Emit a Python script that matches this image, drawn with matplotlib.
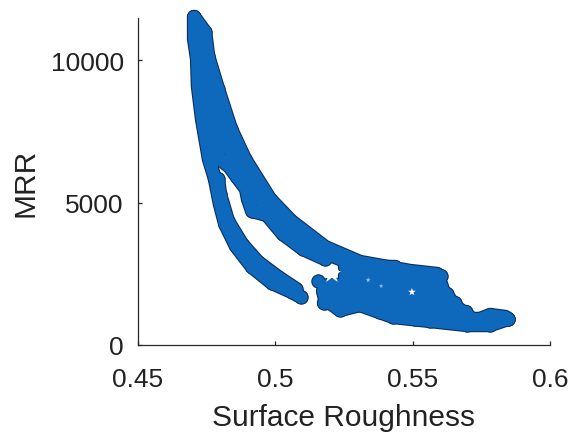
import matplotlib
matplotlib.use("Agg")
import matplotlib.pyplot as plt

plt.rcParams["font.family"] = ["Liberation Sans", "DejaVu Sans"]

# traces (surface roughness, MRR)
left_x = [0.4705, 0.4705, 0.4716, 0.4719, 0.4734, 0.4759, 0.4781]
left_y = [11510, 10738, 10036, 9088, 7930, 6527, 5825]
inner_a_x = [0.4781, 0.4799, 0.4818, 0.4857, 0.4916, 0.4988, 0.5061, 0.5094]
inner_a_y = [5825, 4948, 4246, 3474, 2737, 2176, 1860, 1684]
inner_b_x = [0.4792, 0.4799, 0.4828, 0.4879, 0.4937, 0.5010, 0.5076]
inner_b_y = [5825, 5299, 4351, 3544, 2913, 2386, 1965]
right_x = [0.4705, 0.4745, 0.4756, 0.4792, 0.4839, 0.4890, 0.4981, 0.5058, 0.5181,
           0.5308, 0.5490, 0.5588, 0.5607, 0.5654, 0.5727, 0.5781, 0.5836, 0.5847]
right_y = [11510, 10983, 10141, 8983, 7580, 6527, 5123, 4351, 3439,
           2913, 2597, 2491, 1965, 1369, 842, 1053, 983, 912]
lower_x = [0.5847, 0.5781, 0.5697, 0.5563, 0.5429, 0.5308, 0.5235, 0.5181, 0.5174]
lower_y = [912, 702, 702, 842, 983, 1404, 1228, 1614, 1895]
under_x = [0.5181, 0.5101, 0.5028, 0.4970, 0.4916, 0.4901, 0.4894, 0.4861, 0.4835, 0.4799]
under_y = [3018, 3369, 3895, 4562, 4702, 5123, 5474, 5895, 6246, 6527]
mid_a_x = [0.4730, 0.4741, 0.4770, 0.4796, 0.4770]
mid_a_y = [10036, 8983, 7755, 6878, 6400]
mid_b_x = [0.4741, 0.4770, 0.4807, 0.4843, 0.4879, 0.4919, 0.4955]
mid_b_y = [10387, 8983, 7755, 6527, 6106, 5579, 4948]
mid_c_x = [0.4974, 0.5043, 0.5137, 0.5254]
mid_c_y = [4842, 4140, 3404, 2948]
row1_x = [0.5254, 0.5436]
row1_y = [2737, 2737]
row2_x = [0.5254, 0.5603]
row2_y = [2421, 2421]
row3_x = [0.5192, 0.5603]
row3_y = [2105, 2105]
row4_x = [0.5177, 0.5625]
row4_y = [1790, 1790]
row5_x = [0.5177, 0.5654]
row5_y = [1474, 1474]
row6_x = [0.5381, 0.5694]
row6_y = [1158, 1158]
row7_x = [0.5508, 0.5781]
row7_y = [912, 912]
blob_x = [0.5155]
blob_y = [2246]

# holes in the cloud
gap_x = [0.5206, 0.5338, 0.5385, 0.5497]
gap_y = [2491, 2281, 2070, 1860]
gap_size = [200, 16, 12, 35]
gap_color = ["white", "#8fc3ec", "#8fc3ec", "white"]

xticks = [0.45, 0.5, 0.55, 0.6]
xtick_labels = ["0.45", "0.5", "0.55", "0.6"]
yticks = [0, 5000, 10000]

traces = [
    (left_x, left_y), (inner_a_x, inner_a_y), (inner_b_x, inner_b_y),
    (right_x, right_y), (lower_x, lower_y), (under_x, under_y),
    (mid_a_x, mid_a_y), (mid_b_x, mid_b_y), (mid_c_x, mid_c_y),
    (row1_x, row1_y), (row2_x, row2_y), (row3_x, row3_y), (row4_x, row4_y),
    (row5_x, row5_y), (row6_x, row6_y), (row7_x, row7_y),
    (blob_x, blob_y),
]

fig = plt.figure(figsize=(5.8, 4.35), dpi=100)
ax = fig.add_axes([137.7 / 580, 1 - 346 / 435, 412.6 / 580, 327 / 435])

# dark rim first, blue fill over it
for tx, ty in traces:
    ax.plot(tx, ty, "-o", color="#0b2f5e", lw=10.4, ms=10.4, mew=0,
            solid_capstyle="round", solid_joinstyle="round", clip_on=False, zorder=2)
for tx, ty in traces:
    ax.plot(tx, ty, "-o", color="#0e69bd", lw=8.8, ms=8.8, mew=0,
            solid_capstyle="round", solid_joinstyle="round", clip_on=False, zorder=3)
ax.scatter(gap_x, gap_y, s=gap_size, marker="*", c=gap_color, linewidths=0, zorder=4)

ax.set_xlim(0.45, 0.6)
ax.set_ylim(0, 11475)
ax.set_xticks(xticks)
ax.set_xticklabels(xtick_labels)
ax.set_yticks(yticks)
ax.tick_params(direction="in", length=3, width=0.9, color="#262626",
               labelcolor="#222222", labelsize=19)
ax.tick_params(axis="x", pad=16)
ax.tick_params(axis="y", pad=10)
ax.spines["top"].set_visible(False)
ax.spines["right"].set_visible(False)
for s in ["left", "bottom"]:
    ax.spines[s].set_color("#262626")
    ax.spines[s].set_linewidth(0.9)
ax.set_xlabel("Surface Roughness", fontsize=21.5, color="#222222", labelpad=8.5)
ax.set_ylabel("MRR", fontsize=21.5, color="#222222", labelpad=8)

fig.savefig("out.png", dpi=100)
